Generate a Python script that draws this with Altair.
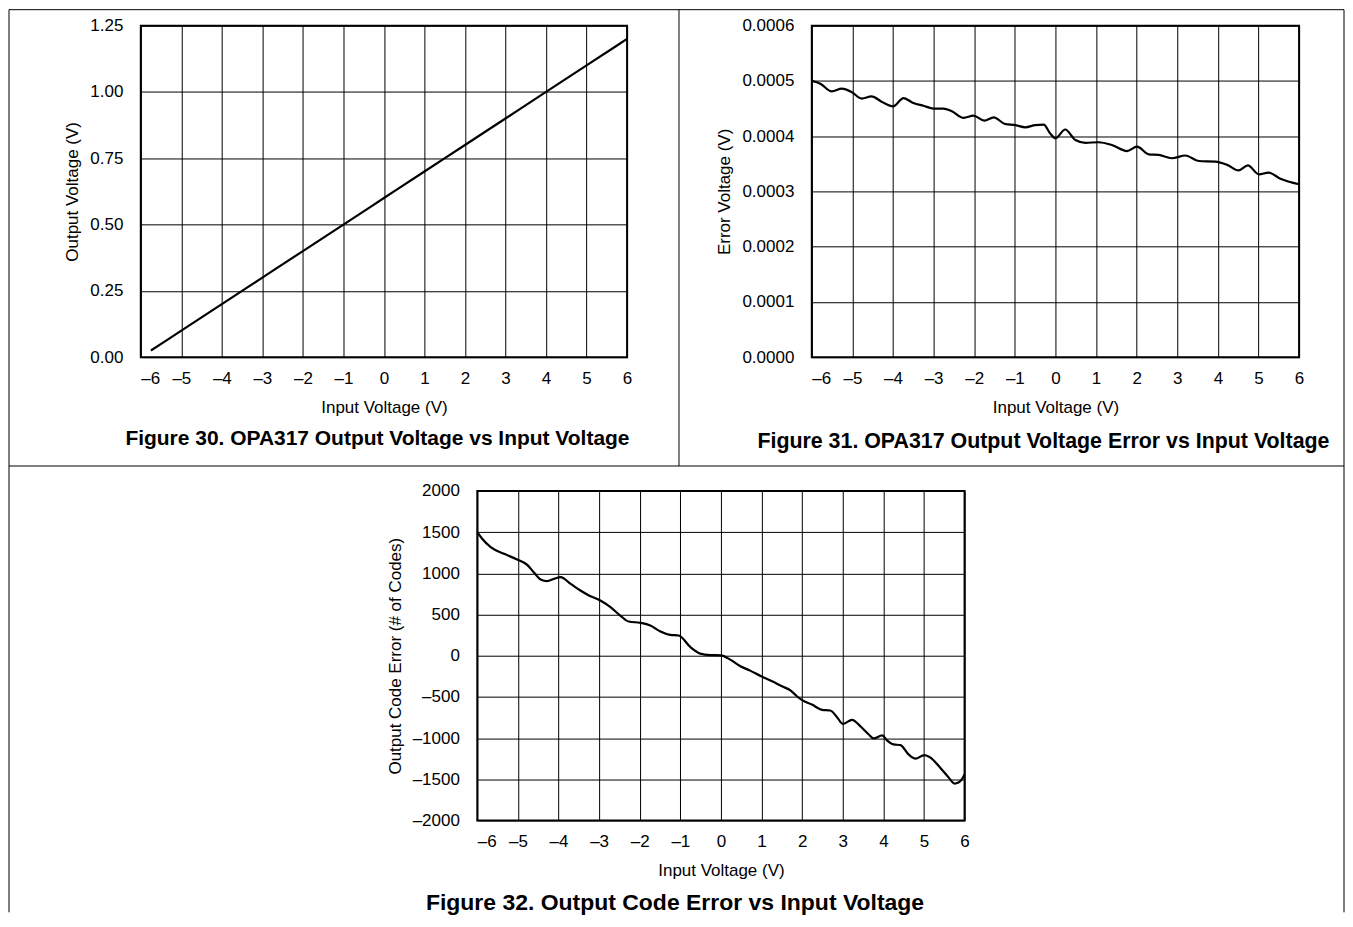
import altair as alt
import pandas as pd

# ---------------- data ----------------
# Figure 30: OPA317 output voltage vs input voltage
f30_x = [-5.75, -5.0, -4.0, -3.0, -2.0, -1.0, 0.0, 1.0, 2.0, 3.0, 4.0, 5.0, 6.0]
f30_y = [0.025, 0.10, 0.20, 0.30, 0.40, 0.50, 0.60, 0.70, 0.80, 0.90, 1.00, 1.10, 1.20]

# Figure 31: output voltage error vs input voltage (V)
f31_x = [-6.0, -5.79, -5.51, -5.26, -5.02, -4.77, -4.53, -4.27, -4.0, -3.74, -3.5,
         -3.25, -3.0, -2.76, -2.55, -2.26, -2.02, -1.75, -1.52, -1.24, -0.99, -0.74,
         -0.5, -0.29, -0.13, 0.0, 0.24, 0.49, 0.74, 1.06, 1.39, 1.76, 2.01, 2.30,
         2.54, 2.87, 3.20, 3.53, 3.94, 4.23, 4.51, 4.74, 5.01, 5.25, 5.54, 6.0]
f31_y = [0.000500, 0.000495, 0.000481, 0.000486, 0.000480, 0.000468, 0.000472,
         0.000462, 0.000454, 0.000469, 0.000460, 0.000455, 0.000450, 0.000450,
         0.000445, 0.000433, 0.000437, 0.000428, 0.000434, 0.000422, 0.000420,
         0.000416, 0.000420, 0.000421, 0.000405, 0.000396, 0.000412, 0.000393,
         0.000388, 0.000389, 0.000384, 0.000373, 0.000381, 0.000367, 0.000366,
         0.000360, 0.000365, 0.000355, 0.000354, 0.000348, 0.000338, 0.000347,
         0.000331, 0.000334, 0.000323, 0.000313]

# Figure 32: output code error vs input voltage (# of codes)
f32_x = [-6.0, -5.88, -5.67, -5.34, -5.02, -4.77, -4.61, -4.44, -4.28, -4.11, -3.95,
         -3.70, -3.46, -3.25, -2.97, -2.72, -2.48, -2.27, -1.98, -1.74, -1.49, -1.25,
         -1.04, -0.75, -0.51, -0.26, 0.0, 0.23, 0.48, 0.72, 0.99, 1.26, 1.50, 1.72,
         1.87, 2.0, 2.24, 2.49, 2.69, 2.86, 3.0, 3.23, 3.43, 3.64, 3.76, 3.97, 4.09,
         4.25, 4.42, 4.62, 4.79, 5.01, 5.16, 5.40, 5.61, 5.75, 5.85, 5.98, 6.0]
f32_y = [1500, 1419, 1318, 1237, 1168, 1103, 1014, 925, 905, 933, 953,
         872, 791, 731, 670, 589, 488, 415, 399, 367, 294, 253,
         245, 103, 25, 8, 5, -48, -129, -181, -250, -310, -371, -423,
         -492, -540, -593, -657, -665, -746, -827, -778, -855, -956, -1004, -968, -1028,
         -1077, -1085, -1198, -1250, -1206, -1238, -1359, -1480, -1552, -1540, -1460, -1440]

x_ticks = [-6, -5, -4, -3, -2, -1, 0, 1, 2, 3, 4, 5, 6]
f30_ticks = [0.0, 0.25, 0.5, 0.75, 1.0, 1.25]
f31_ticks = [0.0, 0.0001, 0.0002, 0.0003, 0.0004, 0.0005, 0.0006]
f32_ticks = [-2000, -1500, -1000, -500, 0, 500, 1000, 1500, 2000]

titles = ["Figure 30. OPA317 Output Voltage vs Input Voltage",
          "Figure 31. OPA317 Output Voltage Error vs Input Voltage",
          "Figure 32. Output Code Error vs Input Voltage"]

FONT = "Liberation Sans"
DASH = "\u2013"
one = alt.Data(values=[{}])


def neg_expr(fmt):
    return (f"datum.value < 0 ? '{DASH}' + format(-datum.value, '{fmt}') "
            f": format(datum.value, '{fmt}')")


def panel(xs, ys, yticks, yfmt, ytitle, title, title_xy, title_size, width, height,
          x_range=None, y_offset=0, extra=()):
    df = pd.DataFrame({"x": xs, "y": ys})
    if x_range is not None:
        xscale = alt.Scale(domain=[-6, 6], nice=False, zero=False, range=x_range)
    else:
        xscale = alt.Scale(domain=[-6, 6], nice=False, zero=False)
    yscale = alt.Scale(domain=[yticks[0], yticks[-1]], nice=False, zero=False)
    xaxis = alt.Axis(
        values=x_ticks, labelExpr=neg_expr("d"), title="Input Voltage (V)",
        labelFlush=False,
        labelAlign={"condition": {"test": "datum.value == -6", "value": "left"},
                    "value": "center"},
    )
    yaxis = alt.Axis(values=yticks, labelExpr=neg_expr(yfmt), title=ytitle,
                     offset=y_offset)
    line = alt.Chart(df).mark_line(color="black", strokeWidth=2.2,
                                   interpolate="monotone").encode(
        x=alt.X("x:Q", scale=xscale, axis=xaxis),
        y=alt.Y("y:Q", scale=yscale, axis=yaxis),
    )
    frame = alt.Chart(one).mark_rect(
        fillOpacity=0, stroke="black", strokeWidth=2
    ).encode(
        x=alt.datum(-6), x2=alt.datum(6),
        y=alt.datum(yticks[0]), y2=alt.datum(yticks[-1]),
    )
    caption = alt.Chart(one).mark_text(
        font=FONT, fontSize=title_size, fontWeight="bold", color="black",
        align="center", baseline="middle",
    ).encode(
        x=alt.value(title_xy[0]), y=alt.value(title_xy[1]), text=alt.value(title),
    )
    return alt.layer(line, frame, caption, *extra).properties(width=width, height=height)


# page cell borders drawn around the three figures (pixel offsets from panel 1)
rule = dict(color="black", strokeWidth=1)
borders = [
    alt.Chart(one).mark_rule(**rule).encode(x=alt.value(-132), x2=alt.value(1205), y=alt.value(-16)),
    alt.Chart(one).mark_rule(**rule).encode(x=alt.value(-132), x2=alt.value(1205), y=alt.value(441)),
    alt.Chart(one).mark_rule(**rule).encode(x=alt.value(-132), y=alt.value(-16), y2=alt.value(888)),
    alt.Chart(one).mark_rule(**rule).encode(x=alt.value(1205), y=alt.value(-16), y2=alt.value(888)),
    alt.Chart(one).mark_rule(**rule).encode(x=alt.value(539), y=alt.value(-16), y2=alt.value(441)),
]

c1 = panel(f30_x, f30_y, f30_ticks, ".2f", "Output Voltage (V)", titles[0],
           (237, 414), 21, 487, 332, extra=borders)
c2 = panel(f31_x, f31_y, f31_ticks, ".4f", "Error Voltage (V)", titles[1],
           (232, 417), 21.4, 488, 332)
c3 = panel(f32_x, f32_y, f32_ticks, "d", "Output Code Error (# of Codes)", titles[2],
           (535, 413), 23, 487, 330, x_range=[337, 825], y_offset=-337)

chart = alt.concat(
    c1, c2, c3, columns=2,
    spacing={"row": 134, "column": 185},
    bounds="flush", align="none",
).properties(
    padding=0,
).configure(
    font=FONT,
).configure_view(
    stroke=None,
).configure_axis(
    grid=True, gridColor="black", gridWidth=1, gridOpacity=1,
    domain=False, ticks=False, tickSize=0,
    labelFont=FONT, labelFontSize=17, labelColor="black", labelPadding=18,
    titleFont=FONT, titleFontSize=17, titleColor="black", titleFontWeight="normal",
    titlePadding=8,
).configure_axisX(
    labelPadding=13, titlePadding=13,
)

chart.save("out.html", embed_options={"renderer": "svg", "actions": False})
